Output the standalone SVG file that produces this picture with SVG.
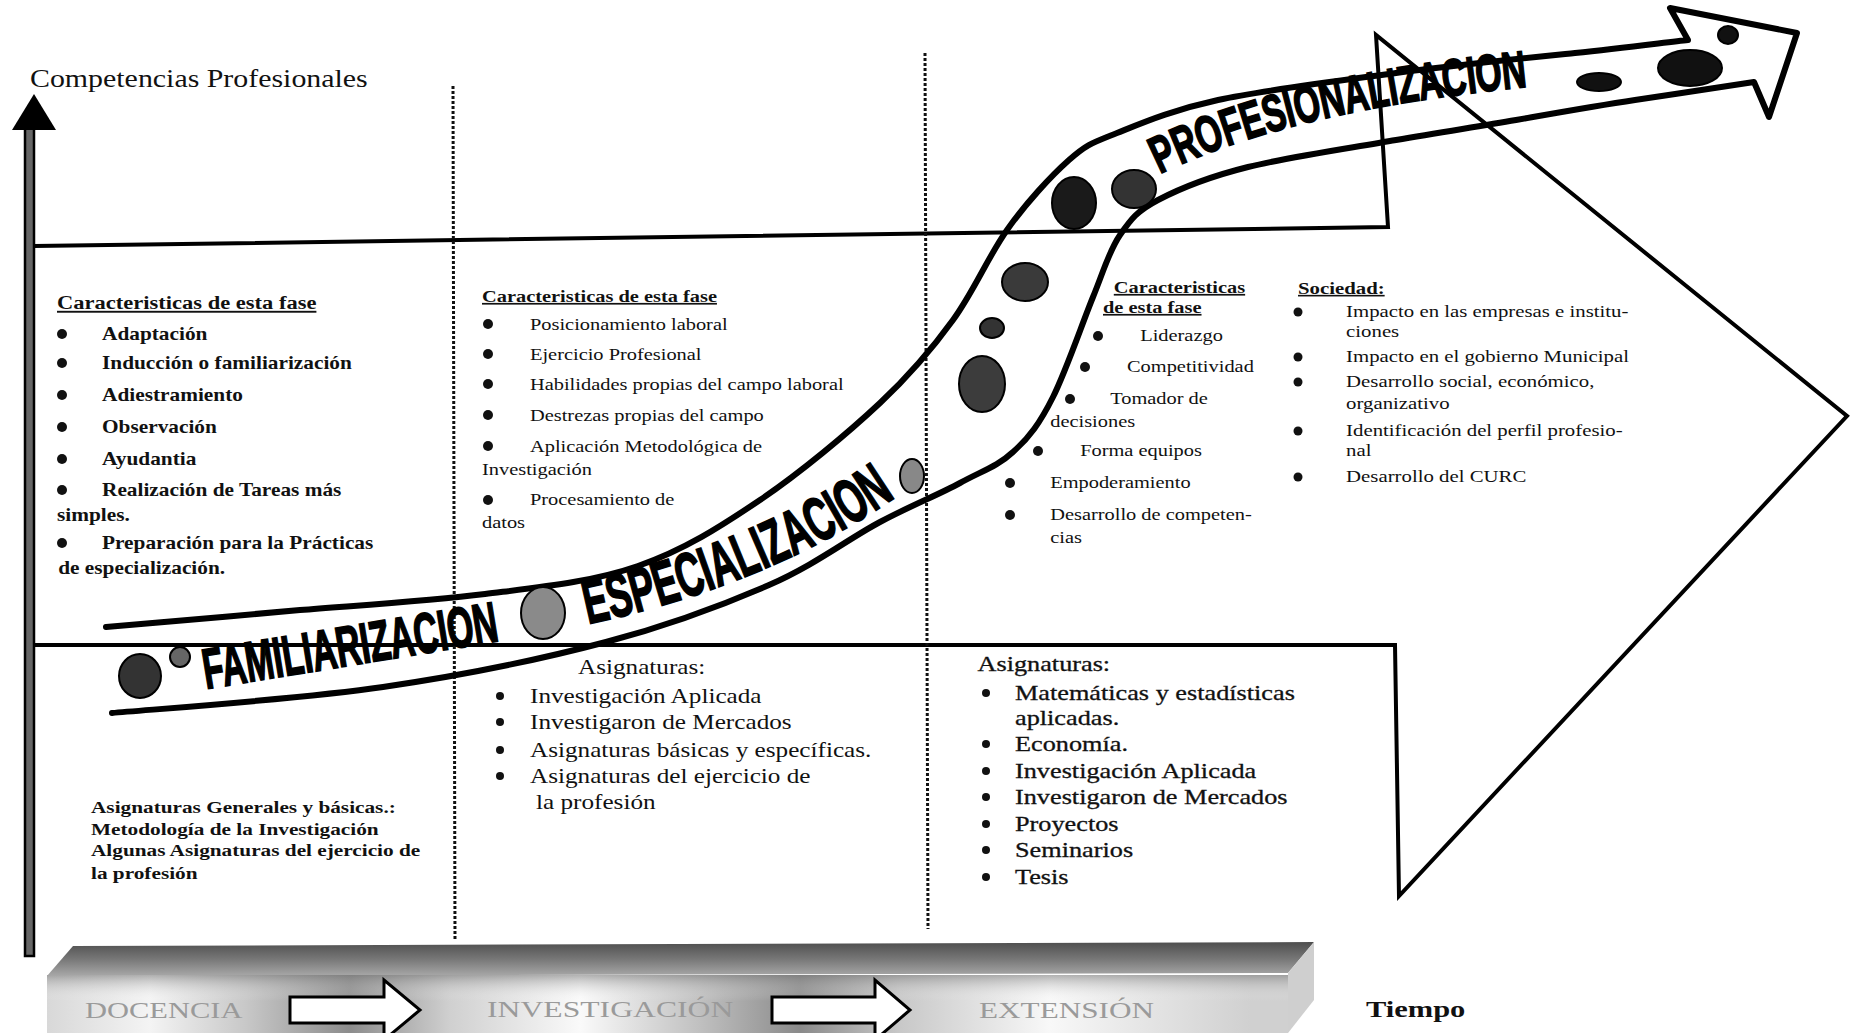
<svg xmlns="http://www.w3.org/2000/svg" width="1854" height="1033" viewBox="0 0 1854 1033">
<defs>
<style>
.ln{fill:none;stroke:#000;stroke-width:4;stroke-linejoin:miter}
.band{fill:none;stroke:#000;stroke-width:6;stroke-linecap:round;stroke-linejoin:round}
.dot{stroke:#111;stroke-width:3;stroke-dasharray:3 2;fill:none}
.el{stroke:#000;stroke-width:2}
.s{font-family:"Liberation Serif","Times New Roman",serif;fill:#111}
.b{font-weight:bold}
.u{text-decoration:underline}
.bt{font-family:"Liberation Sans",Arial,sans-serif;font-weight:bold;fill:#000;stroke:#000;stroke-width:1.8}
.blk{font-family:"Liberation Serif","Times New Roman",serif;fill:#9a9a9a;font-size:24px}
.bul{fill:#111}
</style>
<linearGradient id="gTop" x1="0" y1="0" x2="0" y2="1">
<stop offset="0" stop-color="#4e4e4e"/><stop offset="0.5" stop-color="#777"/><stop offset="1" stop-color="#a8a8a8"/>
</linearGradient>
<linearGradient id="gFront" x1="47" y1="0" x2="1288" y2="0" gradientUnits="userSpaceOnUse">
<stop offset="0" stop-color="#d8d8d8"/><stop offset="0.083" stop-color="#f4f4f4"/><stop offset="0.16" stop-color="#c8c8c8"/><stop offset="0.244" stop-color="#8c8c8c"/><stop offset="0.325" stop-color="#d0d0d0"/><stop offset="0.43" stop-color="#fafafa"/><stop offset="0.526" stop-color="#c0c0c0"/><stop offset="0.607" stop-color="#8a8a8a"/><stop offset="0.687" stop-color="#c8c8c8"/><stop offset="0.808" stop-color="#f8f8f8"/><stop offset="0.97" stop-color="#d0d0d0"/>
</linearGradient>
<linearGradient id="gShade" x1="0" y1="0" x2="0" y2="1">
<stop offset="0" stop-color="#777" stop-opacity="0.55"/><stop offset="0.45" stop-color="#fff" stop-opacity="0"/><stop offset="1" stop-color="#fff" stop-opacity="0"/>
</linearGradient>
<path id="pE" d="M588,624 Q770,585 900,494"/>
<path id="pP" d="M1160,174 Q1290,110 1534,86"/>
</defs>
<rect width="1854" height="1033" fill="#fff"/>

<g id="connectors">
<path id="big-arrow" class="ln" d="M34,246 L1388,227 L1376,35 L1847,416 L1399,896 L1395,645 L34,645"/>
<line class="dot" x1="453" y1="86" x2="455" y2="941"/>
<line class="dot" x1="925" y1="53" x2="928" y2="929"/>
<g id="axis">
<rect x="25" y="128" width="9" height="828" fill="#666" stroke="#000" stroke-width="2.5"/>
<polygon points="34,94 12,130 56,130" fill="#000"/>
</g>
<path id="band" class="band" d="M106,627 C138,624 237,616 300,610 C363,605 429,601 485,594 C541,587 592,582 638,566 C684,550 720,527 760,500 C800,473 848,433 880,403 C912,373 932,349 953,320 C974,291 988,257 1007,230 C1026,203 1051,176 1069,160 C1087,144 1092,143 1117,133 C1142,123 1172,110 1218,100 C1265,90 1337,81 1396,73 C1456,65 1526,58 1575,53 C1624,48 1669,42 1688,40 L1670,8 L1797,33 L1769,117 L1754,82 C1734,85 1675,94 1635,100 C1595,106 1556,113 1516,120 C1476,127 1441,132 1396,140 C1351,148 1288,157 1248,167 C1208,177 1179,189 1158,200 C1137,211 1131,219 1120,235 C1109,251 1104,270 1093,297 C1082,324 1066,371 1053,397 C1040,423 1029,438 1013,452 C998,466 982,471 960,483 C938,495 912,505 880,522 C848,539 815,565 769,585 C723,605 670,625 606,642 C542,659 465,675 383,687 C301,699 157,709 112,713"/>
</g>

<g id="band-dots">
<ellipse class="el" cx="140" cy="676" rx="21" ry="22" fill="#333"/>
<ellipse class="el" cx="180" cy="657" rx="10" ry="10" fill="#666"/>
<ellipse class="el" cx="543" cy="613" rx="22" ry="26" fill="#8a8a8a"/>
<ellipse class="el" cx="912" cy="476" rx="12" ry="17" fill="#888"/>
<ellipse class="el" cx="982" cy="384" rx="23" ry="28" fill="#3c3c3c"/>
<ellipse class="el" cx="992" cy="328" rx="12" ry="10" fill="#333"/>
<ellipse class="el" cx="1025" cy="282" rx="23" ry="19" fill="#3a3a3a"/>
<ellipse class="el" cx="1074" cy="203" rx="22" ry="26" fill="#1a1a1a"/>
<ellipse class="el" cx="1134" cy="189" rx="22" ry="19" fill="#333"/>
<ellipse class="el" cx="1599" cy="82" rx="22" ry="9" fill="#111"/>
<ellipse class="el" cx="1690" cy="68" rx="32" ry="18" fill="#111"/>
<ellipse class="el" cx="1728" cy="35" rx="10" ry="9" fill="#111"/>
</g>

<g id="phase-labels">
<text class="bt" font-size="57" transform="translate(206,689) rotate(-9.3)" textLength="298" lengthAdjust="spacingAndGlyphs">FAMILIARIZACION</text>
<text class="bt" font-size="62"><textPath href="#pE" textLength="335" lengthAdjust="spacingAndGlyphs">ESPECIALIZACION</textPath></text>
<text class="bt" font-size="52"><textPath href="#pP" textLength="380" lengthAdjust="spacingAndGlyphs">PROFESIONALIZACION</textPath></text>
</g>

<g id="axis-label">
<text class="s" font-size="26" transform="translate(30,87) scale(1.15,1)">Competencias Profesionales</text>
</g>

<g id="box-familiarizacion" transform="translate(0,4)">
<g class="bul"><circle cx="62" cy="330" r="5"/><circle cx="62" cy="359" r="5"/><circle cx="62" cy="391" r="5"/><circle cx="62" cy="423" r="5"/><circle cx="62" cy="455" r="5"/><circle cx="62" cy="486" r="5"/><circle cx="62" cy="539" r="5"/></g>
<g class="s b" font-size="18" transform="translate(57,0) scale(1.185,1)">
<text class="u" x="0" y="305" font-size="19">Caracteristicas de esta fase</text>
<text x="38" y="336">Adaptación</text>
<text x="38" y="365">Inducción o familiarización</text>
<text x="38" y="397">Adiestramiento</text>
<text x="38" y="429">Observación</text>
<text x="38" y="461">Ayudantia</text>
<text x="38" y="492">Realización de Tareas más</text>
<text x="0" y="517">simples.</text>
<text x="38" y="545">Preparación para la Prácticas</text>
<text x="1" y="570">de  especialización.</text>
</g>
</g>

<g id="box-especializacion" transform="translate(0,5)">
<g class="bul"><circle cx="488" cy="319" r="5"/><circle cx="488" cy="349" r="5"/><circle cx="488" cy="379" r="5"/><circle cx="488" cy="410" r="5"/><circle cx="488" cy="441" r="5"/><circle cx="488" cy="495" r="5"/></g>
<g class="s" font-size="17" transform="translate(482,0) scale(1.2,1)">
<text class="b u" x="0" y="297">Caracteristicas de esta fase</text>
<text x="40" y="325">Posicionamiento laboral</text>
<text x="40" y="355">Ejercicio Profesional</text>
<text x="40" y="385">Habilidades propias del campo laboral</text>
<text x="40" y="416">Destrezas propias del campo</text>
<text x="40" y="447">Aplicación Metodológica de</text>
<text x="0" y="470">Investigación</text>
<text x="40" y="500">Procesamiento de</text>
<text x="0" y="523">datos</text>
</g>
</g>

<g id="box-profesionalizacion" transform="translate(0,4)">
<g class="bul"><circle cx="1098" cy="332" r="5"/><circle cx="1085" cy="363" r="5"/><circle cx="1070" cy="395" r="5"/><circle cx="1038" cy="447" r="5"/><circle cx="1010" cy="479" r="5"/><circle cx="1010" cy="511" r="5"/></g>
<g class="s" font-size="17" transform="translate(1049,0) scale(1.2,1)">
<text class="b u" x="54" y="289">Caracteristicas</text>
<text class="b u" x="45" y="309">de esta fase</text>
<text x="76" y="337">Liderazgo</text>
<text x="65" y="368">Competitividad</text>
<text x="51" y="400">Tomador de</text>
<text x="1" y="423">decisiones</text>
<text x="26" y="452">Forma equipos</text>
<text x="1" y="484">Empoderamiento</text>
<text x="1" y="516">Desarrollo de competen-</text>
<text x="1" y="539">cias</text>
</g>
</g>

<g id="box-sociedad" transform="translate(0,6)">
<g class="bul"><circle cx="1298" cy="306" r="4.5"/><circle cx="1298" cy="351" r="4.5"/><circle cx="1298" cy="376" r="4.5"/><circle cx="1298" cy="425" r="4.5"/><circle cx="1298" cy="471" r="4.5"/></g>
<g class="s" font-size="16" transform="translate(1298,0) scale(1.3,1)">
<text class="b u" x="0" y="288">Sociedad:</text>
<text x="37" y="311">Impacto en las empresas e institu-</text>
<text x="37" y="331">ciones</text>
<text x="37" y="356">Impacto en el gobierno Municipal</text>
<text x="37" y="381">Desarrollo social, económico,</text>
<text x="37" y="403">organizativo</text>
<text x="37" y="430">Identificación del perfil profesio-</text>
<text x="37" y="450">nal</text>
<text x="37" y="476">Desarrollo del CURC</text>
</g>
</g>

<g id="asig-familiarizacion" transform="translate(0,7)">
<g class="s b" font-size="16" transform="translate(91,0) scale(1.33,1)">
<text x="0" y="806">Asignaturas Generales y básicas.:</text>
<text x="0" y="828">Metodología de la Investigación</text>
<text x="0" y="849">Algunas Asignaturas del ejercicio de</text>
<text x="0" y="872">la profesión</text>
</g>
</g>

<g id="asig-especializacion" transform="translate(0,6)">
<g class="bul"><circle cx="500" cy="690" r="4"/><circle cx="500" cy="716" r="4"/><circle cx="500" cy="744" r="4"/><circle cx="500" cy="770" r="4"/></g>
<g class="s" font-size="21" transform="translate(530,0) scale(1.2,1)">
<text x="40" y="668">Asignaturas:</text>
<text x="0" y="697">Investigación Aplicada</text>
<text x="0" y="723">Investigaron de Mercados</text>
<text x="0" y="751">Asignaturas básicas y específicas.</text>
<text x="0" y="777">Asignaturas del ejercicio de</text>
<text x="5" y="803">la profesión</text>
</g>
</g>

<g id="asig-profesionalizacion" transform="translate(0,7)">
<g class="bul"><circle cx="986" cy="686" r="4"/><circle cx="986" cy="737" r="4"/><circle cx="986" cy="764" r="4"/><circle cx="986" cy="790" r="4"/><circle cx="986" cy="817" r="4"/><circle cx="986" cy="843" r="4"/><circle cx="986" cy="870" r="4"/></g>
<g class="s" font-size="21" stroke="#111" stroke-width="0.3" transform="translate(1015,0) scale(1.25,1)">
<text x="-30" y="664">Asignaturas:</text>
<text x="0" y="693">Matemáticas y estadísticas</text>
<text x="0" y="718">aplicadas.</text>
<text x="0" y="744">Economía.</text>
<text x="0" y="771">Investigación Aplicada</text>
<text x="0" y="797">Investigaron de Mercados</text>
<text x="0" y="824">Proyectos</text>
<text x="0" y="850">Seminarios</text>
<text x="0" y="877">Tesis</text>
</g>
</g>

<g id="timeline">
<polygon points="73,946 1314,942 1288,973 47,976" fill="url(#gTop)"/>
<polygon points="1288,973 1314,942 1314,1000 1288,1033" fill="#cfcfcf"/>
<rect x="47" y="975" width="1241" height="58" fill="url(#gFront)"/>
<rect x="47" y="975" width="1241" height="58" fill="url(#gShade)"/>
<text class="blk" transform="translate(85,1018) scale(1.27,1)">DOCENCIA</text>
<text class="blk" transform="translate(487,1017) scale(1.32,1)">INVESTIGACIÓN</text>
<text class="blk" transform="translate(979,1018) scale(1.3,1)">EXTENSIÓN</text>
<polygon points="290,997 384,997 384,980 420,1010 384,1040 384,1023 290,1023" fill="#fff" stroke="#000" stroke-width="3"/>
<polygon points="772,997 875,997 875,980 910,1010 875,1040 875,1023 772,1023" fill="#fff" stroke="#000" stroke-width="3"/>
</g>

<g id="time-label">
<text class="s b" font-size="24" transform="translate(1366,1017) scale(1.27,1)">Tiempo</text>
</g>
</svg>
